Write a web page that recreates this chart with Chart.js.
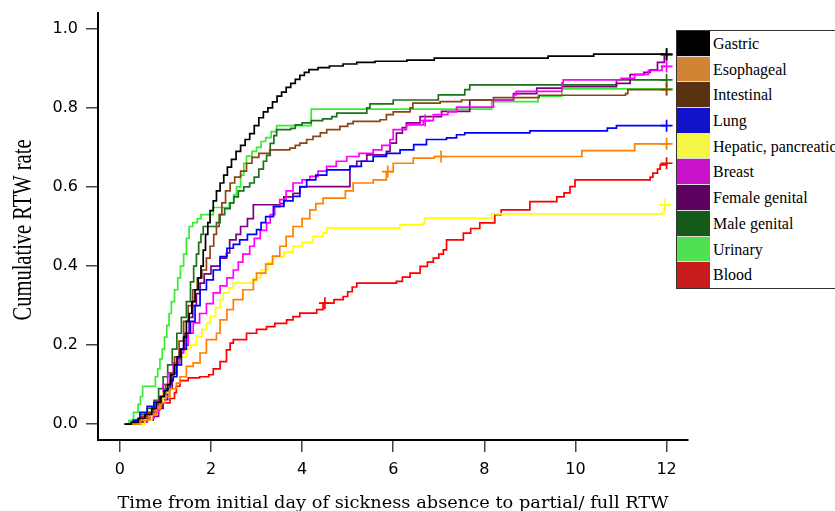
<!DOCTYPE html>
<html>
<head>
<meta charset="utf-8">
<script src="https://cdn.jsdelivr.net/npm/chart.js@4/dist/chart.umd.min.js"></script>
<style>
  html, body { margin: 0; padding: 0; background: #fff; overflow: hidden; }
  #wrap { position: relative; width: 835px; height: 511px; overflow: hidden; }
  #rtwChart { display: block; }
  #legend {
    position: absolute; left: 676px; top: 30px; width: 200px;
    border: 1px solid #333; background: #fff;
    font-family: "Liberation Serif", serif; font-size: 16px; color: #000;
  }
  .row { display: flex; height: 25.7px; }
  .sw { width: 33px; height: 100%; box-sizing: border-box; border-bottom: 1px solid #ddd; }
  .row:last-child .sw { border-bottom: none; }
  .lbl { padding-left: 3px; line-height: 25.7px; white-space: nowrap; }
</style>
</head>
<body>
<div id="wrap">
  <canvas id="rtwChart" width="835" height="511"></canvas>
  <div id="legend"></div>
</div>
<script>
// [months, cumulative RTW rate] step points
const gastric = [[0.1,0],[0.25,0.005],[0.4,0.015],[0.55,0.025],[0.7,0.04],[0.8,0.055],[0.9,0.07],[0.97,0.085],[1.05,0.1],[1.12,0.125],[1.2,0.15],[1.26,0.17],[1.33,0.19],[1.4,0.22],[1.46,0.26],[1.52,0.28],[1.58,0.31],[1.65,0.34],[1.72,0.37],[1.78,0.4],[1.83,0.44],[1.88,0.48],[1.93,0.51],[1.98,0.54],[2.05,0.565],[2.12,0.59],[2.2,0.61],[2.28,0.63],[2.36,0.65],[2.45,0.67],[2.55,0.69],[2.65,0.705],[2.75,0.72],[2.85,0.735],[2.95,0.755],[3.05,0.775],[3.15,0.79],[3.25,0.8],[3.35,0.815],[3.45,0.83],[3.55,0.84],[3.65,0.852],[3.75,0.862],[3.85,0.872],[3.95,0.882],[4.05,0.89],[4.15,0.897],[4.35,0.902],[4.6,0.906],[4.9,0.911],[5.2,0.915],[5.6,0.918],[6.3,0.921],[6.9,0.926],[9.4,0.931],[10.4,0.936],[12,0.936]];
const esophageal = [[0.25,0],[0.45,0.01],[0.65,0.025],[0.8,0.04],[0.88,0.054],[1.0,0.07],[1.1,0.09],[1.24,0.104],[1.32,0.12],[1.46,0.146],[1.61,0.155],[1.76,0.18],[1.9,0.214],[2.12,0.23],[2.2,0.264],[2.35,0.29],[2.49,0.315],[2.7,0.34],[2.93,0.365],[3.0,0.382],[3.2,0.405],[3.35,0.425],[3.51,0.45],[3.65,0.475],[3.8,0.5],[4.0,0.52],[4.17,0.542],[4.3,0.558],[4.46,0.572],[4.95,0.59],[5.12,0.61],[5.56,0.618],[5.85,0.639],[6.0,0.66],[6.44,0.673],[6.9,0.677],[10.14,0.692],[11.3,0.709],[12,0.709]];
const intestinal = [[0.15,0],[0.3,0.005],[0.5,0.015],[0.65,0.03],[0.8,0.05],[0.9,0.07],[1.0,0.1],[1.1,0.13],[1.2,0.17],[1.3,0.21],[1.4,0.26],[1.5,0.3],[1.6,0.34],[1.7,0.37],[1.8,0.39],[1.9,0.42],[1.98,0.45],[2.06,0.48],[2.12,0.5],[2.18,0.53],[2.24,0.56],[2.32,0.59],[2.42,0.61],[2.52,0.625],[2.65,0.64],[2.78,0.66],[2.9,0.675],[3.05,0.685],[3.29,0.694],[3.73,0.698],[3.85,0.705],[3.95,0.711],[4.1,0.72],[4.24,0.728],[4.4,0.737],[4.54,0.745],[4.83,0.753],[5.0,0.76],[5.12,0.766],[5.71,0.77],[5.85,0.783],[6.0,0.79],[6.37,0.8],[6.43,0.812],[7.03,0.816],[7.5,0.82],[8.2,0.826],[9.2,0.832],[11.1,0.836],[11.15,0.846],[12,0.846]];
const lung = [[0.15,0],[0.3,0.01],[0.44,0.03],[0.6,0.045],[0.75,0.055],[0.88,0.07],[1.0,0.09],[1.1,0.11],[1.17,0.12],[1.25,0.15],[1.35,0.19],[1.46,0.23],[1.55,0.26],[1.65,0.3],[1.76,0.34],[1.9,0.365],[2.05,0.39],[2.2,0.424],[2.35,0.445],[2.49,0.455],[2.63,0.466],[2.8,0.48],[3.0,0.492],[3.1,0.51],[3.2,0.525],[3.37,0.551],[3.6,0.565],[3.8,0.576],[3.95,0.6],[4.1,0.618],[4.3,0.63],[4.54,0.643],[5.05,0.652],[5.3,0.665],[5.56,0.677],[5.85,0.685],[6.15,0.694],[6.45,0.707],[6.73,0.72],[7.17,0.724],[7.39,0.732],[7.57,0.737],[9.0,0.742],[10.7,0.749],[10.9,0.755],[12,0.755]];
const hepatic = [[0.4,0],[0.55,0.01],[0.7,0.025],[0.8,0.04],[0.88,0.055],[0.95,0.08],[1.05,0.1],[1.12,0.12],[1.24,0.15],[1.35,0.17],[1.46,0.19],[1.55,0.2],[1.68,0.222],[1.8,0.24],[1.9,0.255],[1.98,0.273],[2.1,0.295],[2.2,0.315],[2.27,0.332],[2.4,0.345],[2.49,0.357],[2.93,0.37],[3.1,0.39],[3.25,0.408],[3.37,0.424],[3.6,0.435],[3.8,0.45],[4.0,0.46],[4.24,0.475],[4.46,0.483],[4.54,0.496],[6.15,0.504],[6.66,0.509],[6.7,0.521],[8.16,0.532],[11.9,0.536],[11.95,0.555],[12,0.555]];
const breast = [[0.2,0],[0.4,0.005],[0.6,0.015],[0.75,0.03],[0.85,0.06],[0.95,0.1],[1.05,0.13],[1.17,0.155],[1.3,0.18],[1.4,0.2],[1.5,0.23],[1.61,0.256],[1.75,0.28],[1.9,0.305],[2.05,0.332],[2.2,0.35],[2.35,0.37],[2.49,0.39],[2.6,0.41],[2.7,0.43],[2.85,0.45],[2.95,0.47],[3.08,0.49],[3.22,0.509],[3.3,0.53],[3.4,0.55],[3.51,0.568],[3.65,0.59],[3.8,0.61],[4.0,0.618],[4.17,0.627],[4.35,0.64],[4.54,0.652],[4.75,0.665],[4.98,0.677],[5.25,0.685],[5.56,0.694],[5.75,0.705],[5.93,0.72],[6.0,0.745],[6.29,0.757],[6.66,0.768],[6.88,0.783],[7.2,0.79],[7.39,0.802],[8.2,0.82],[8.64,0.833],[8.7,0.842],[9.7,0.863],[9.73,0.871],[11.0,0.875],[11.3,0.885],[11.6,0.895],[11.9,0.905],[12,0.905]];
const femaleGenital = [[0.2,0],[0.4,0.005],[0.6,0.01],[0.73,0.02],[0.85,0.04],[0.95,0.062],[1.05,0.09],[1.15,0.13],[1.25,0.165],[1.32,0.188],[1.42,0.23],[1.52,0.27],[1.6,0.3],[1.68,0.33],[1.76,0.357],[1.85,0.38],[2.0,0.4],[2.2,0.42],[2.34,0.433],[2.41,0.466],[2.55,0.48],[2.65,0.5],[2.8,0.52],[2.93,0.555],[3.51,0.558],[3.6,0.575],[3.8,0.584],[3.95,0.601],[4.98,0.601],[5.05,0.652],[5.2,0.665],[5.42,0.681],[5.85,0.69],[5.93,0.711],[6.07,0.736],[6.2,0.75],[6.29,0.762],[6.59,0.778],[7.06,0.791],[7.68,0.82],[8.64,0.836],[9.15,0.85],[9.7,0.854],[10.9,0.862],[11.2,0.884],[11.5,0.89],[11.64,0.896],[11.8,0.915],[11.95,0.934],[12,0.934]];
const maleGenital = [[0.15,0],[0.3,0.01],[0.45,0.025],[0.6,0.04],[0.75,0.06],[0.85,0.09],[0.95,0.12],[1.05,0.15],[1.15,0.19],[1.25,0.23],[1.35,0.27],[1.46,0.31],[1.55,0.36],[1.62,0.4],[1.68,0.43],[1.73,0.46],[1.78,0.48],[1.83,0.5],[2.12,0.51],[2.2,0.53],[2.3,0.545],[2.42,0.56],[2.5,0.575],[2.6,0.59],[2.72,0.6],[2.85,0.61],[2.95,0.625],[3.05,0.645],[3.15,0.665],[3.22,0.68],[3.3,0.71],[3.38,0.73],[3.44,0.745],[3.75,0.748],[3.85,0.757],[4.0,0.762],[4.2,0.768],[4.45,0.772],[4.65,0.778],[4.76,0.787],[5.42,0.8],[5.49,0.81],[6.0,0.82],[6.99,0.833],[7.57,0.846],[7.68,0.858],[10.9,0.871],[12,0.871]];
const urinary = [[0.12,0],[0.2,0.01],[0.3,0.03],[0.4,0.05],[0.45,0.07],[0.5,0.096],[0.78,0.12],[0.83,0.14],[0.88,0.165],[0.93,0.19],[0.98,0.22],[1.03,0.25],[1.08,0.28],[1.13,0.31],[1.2,0.34],[1.27,0.37],[1.33,0.4],[1.4,0.43],[1.46,0.47],[1.52,0.5],[1.6,0.51],[1.7,0.52],[1.78,0.53],[2.05,0.548],[2.4,0.56],[2.5,0.58],[2.56,0.6],[2.65,0.63],[2.72,0.66],[2.78,0.678],[2.9,0.69],[3.0,0.7],[3.1,0.715],[3.2,0.725],[3.32,0.74],[3.44,0.755],[4.2,0.797],[8.16,0.816],[9.18,0.83],[9.7,0.848],[12,0.848]];
const blood = [[0.1,0],[0.3,0.01],[0.44,0.02],[0.6,0.03],[0.73,0.037],[0.88,0.045],[0.95,0.054],[1.1,0.065],[1.2,0.08],[1.24,0.096],[1.32,0.11],[1.5,0.117],[1.75,0.12],[1.95,0.125],[2.05,0.14],[2.2,0.158],[2.34,0.188],[2.42,0.205],[2.49,0.214],[2.78,0.23],[3.0,0.24],[3.22,0.247],[3.4,0.255],[3.66,0.264],[3.8,0.272],[3.95,0.281],[4.32,0.29],[4.46,0.306],[4.7,0.315],[4.9,0.323],[5.0,0.335],[5.1,0.347],[5.2,0.357],[6.07,0.361],[6.2,0.372],[6.37,0.382],[6.59,0.399],[6.75,0.41],[6.88,0.42],[7.0,0.43],[7.1,0.441],[7.17,0.466],[7.54,0.483],[7.7,0.495],[7.9,0.509],[8.23,0.53],[8.37,0.542],[9.0,0.563],[9.59,0.575],[9.75,0.585],[9.88,0.601],[9.99,0.618],[11.64,0.625],[11.7,0.635],[11.8,0.645],[11.86,0.656],[12,0.66]];

// censored times (the "+" marks)
const gastricCens = [12];
const esophagealCens = [5.88, 7.05, 12];
const intestinalCens = [12];
const lungCens = [12];
const hepaticCens = [11.97];
const breastCens = [6.7, 12];
const femaleGenitalCens = [12];
const maleGenitalCens = [12];
const urinaryCens = [12];
const bloodCens = [4.5, 12];

const xTicks = [0, 2, 4, 6, 8, 10, 12];
const yTicks = [0.0, 0.2, 0.4, 0.6, 0.8, 1.0];
const xTitle = "Time from initial day of sickness absence to partial/ full RTW";
const yTitle = "Cumulative RTW rate";

const series = [
  { name: "Gastric",             pts: gastric,       cens: gastricCens,       line: "#000000", key: "#000000" },
  { name: "Esophageal",          pts: esophageal,    cens: esophagealCens,    line: "#ff8000", key: "#d08434" },
  { name: "Intestinal",          pts: intestinal,    cens: intestinalCens,    line: "#8b4513", key: "#5a3210" },
  { name: "Lung",                pts: lung,          cens: lungCens,          line: "#0000ff", key: "#1212c8" },
  { name: "Hepatic, pancreatic", pts: hepatic,       cens: hepaticCens,       line: "#ffff00", key: "#f5f545" },
  { name: "Breast",              pts: breast,        cens: breastCens,        line: "#ff00ff", key: "#c812c8" },
  { name: "Female genital",      pts: femaleGenital, cens: femaleGenitalCens, line: "#800080", key: "#5e005e" },
  { name: "Male genital",        pts: maleGenital,   cens: maleGenitalCens,   line: "#1d701d", key: "#145a18" },
  { name: "Urinary",             pts: urinary,       cens: urinaryCens,       line: "#33ee33", key: "#50e050" },
  { name: "Blood",               pts: blood,         cens: bloodCens,         line: "#ff0000", key: "#c81c1c" }
];

function valueAt(pts, t) {
  let v = 0;
  for (const p of pts) { if (p[0] <= t) v = p[1]; }
  return v;
}

const datasets = [];
series.forEach(s => {
  datasets.push({
    label: s.name,
    data: s.pts.map(p => ({ x: p[0], y: p[1] })),
    stepped: true,
    borderColor: s.line,
    borderWidth: 1.7,
    pointRadius: 0,
    fill: false
  });
  datasets.push({
    label: s.name + " censored",
    data: s.cens.map(t => ({ x: t, y: valueAt(s.pts, t) })),
    showLine: false,
    pointStyle: "cross",
    pointRadius: 6,
    borderColor: s.line,
    borderWidth: 1.7
  });
});

// legend
const legend = document.getElementById("legend");
series.forEach(s => {
  const row = document.createElement("div");
  row.className = "row";
  const sw = document.createElement("div");
  sw.className = "sw";
  sw.style.background = s.key;
  const lbl = document.createElement("div");
  lbl.className = "lbl";
  lbl.textContent = s.name;
  row.appendChild(sw);
  row.appendChild(lbl);
  legend.appendChild(row);
});

// axis titles: the original uses a stretched serif on x and a condensed serif on y
const axisTitles = {
  id: "axisTitles",
  afterDraw(chart) {
    const { ctx, chartArea } = chart;
    ctx.save();
    ctx.fillStyle = "#000";
    ctx.textAlign = "center";
    ctx.textBaseline = "alphabetic";
    ctx.font = '16px "DejaVu Serif"';
    const xw = ctx.measureText(xTitle).width;
    ctx.translate((chartArea.left + chartArea.right) / 2, 508);
    ctx.scale(551 / xw, 1);
    ctx.fillText(xTitle, 0, 0);
    ctx.restore();

    ctx.save();
    ctx.fillStyle = "#000";
    ctx.textAlign = "center";
    ctx.textBaseline = "alphabetic";
    ctx.font = '27px "Liberation Serif"';
    const yw = ctx.measureText(yTitle).width;
    ctx.translate(31, 230);
    ctx.rotate(-Math.PI / 2);
    ctx.scale(181 / yw, 1);
    ctx.fillText(yTitle, 0, 0);
    ctx.restore();
  }
};

const ctx = document.getElementById("rtwChart").getContext("2d");
new Chart(ctx, {
  type: "line",
  data: { datasets: datasets },
  plugins: [axisTitles],
  options: {
    responsive: false,
    animation: false,
    layout: { padding: { left: 0, top: 13, right: 147, bottom: 0 } },
    scales: {
      x: {
        type: "linear",
        min: -0.48,
        max: 12.47,
        afterBuildTicks: scale => { scale.ticks = xTicks.map(v => ({ value: v })); },
        afterFit: scale => { scale.height = 71; scale.paddingLeft = 0; scale.paddingRight = 0; },
        ticks: {
          color: "#000",
          padding: 8,
          font: { family: "DejaVu Sans", size: 16 },
          callback: v => String(v)
        },
        grid: { drawOnChartArea: false, drawTicks: true, tickLength: 12, color: "#444", lineWidth: 1.5 },
        border: { display: true, color: "#000", width: 2 },
        title: { display: false }
      },
      y: {
        type: "linear",
        min: -0.04,
        max: 1.04,
        afterBuildTicks: scale => { scale.ticks = yTicks.map(v => ({ value: v })); },
        afterFit: scale => { scale.width = 98; scale.paddingTop = 0; scale.paddingBottom = 0; },
        ticks: {
          color: "#000",
          padding: 8,
          font: { family: "DejaVu Sans", size: 16 },
          callback: v => Number(v).toFixed(1)
        },
        grid: { drawOnChartArea: false, drawTicks: true, tickLength: 12, color: "#444", lineWidth: 1.5 },
        border: { display: true, color: "#000", width: 2 },
        title: { display: false }
      }
    },
    plugins: {
      legend: { display: false },
      title: { display: false },
      tooltip: { enabled: false }
    }
  }
});
</script>
</body>
</html>
